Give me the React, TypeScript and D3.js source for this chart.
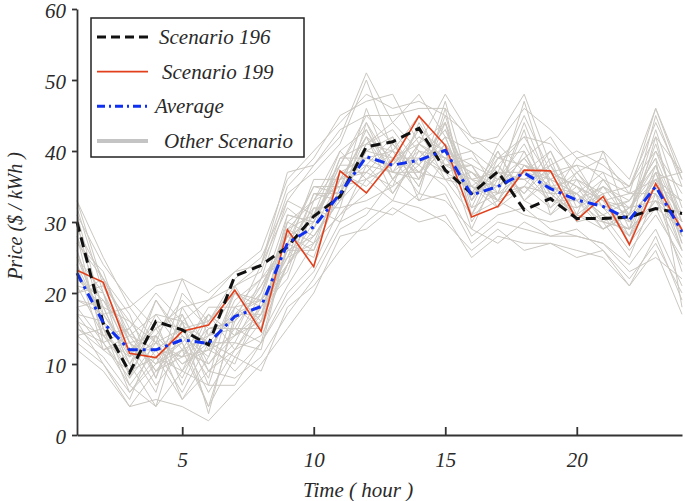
import React, { useEffect, useRef } from "react";
import * as d3 from "d3";

const hours = d3.range(1, 25);

const scenario196 = [30.0, 15.7, 8.8, 16.0, 14.8, 12.7, 22.4, 23.9, 26.5, 30.8, 33.6, 40.6, 41.3, 43.2, 37.3, 34.0, 37.1, 31.7, 33.3, 30.5, 30.5, 30.7, 31.9, 31.2];
const scenario199 = [23.2, 21.5, 11.5, 10.9, 14.6, 15.5, 20.4, 14.6, 28.9, 23.7, 37.2, 34.1, 38.7, 44.9, 40.8, 30.7, 32.2, 37.3, 37.2, 30.3, 33.6, 26.8, 35.4, 28.9];
const average = [22.8, 15.8, 12.0, 12.0, 13.4, 12.9, 16.7, 18.1, 27.0, 29.3, 34.0, 39.2, 38.0, 38.7, 40.1, 33.8, 35.0, 36.9, 34.7, 33.1, 32.2, 30.3, 35.0, 28.6];

// the grey "other scenario" traces
const others: number[][] = [
  [28, 18, 10, 15, 9, 14, 20, 19, 30, 33, 38, 44, 36, 41, 38, 36, 33, 40, 32, 35, 30, 32, 38, 30],
  [18, 13, 15, 8, 17, 10, 14, 22, 25, 27, 31, 36, 40, 35, 44, 31, 37, 34, 38, 31, 34, 28, 33, 26],
  [25, 20, 8, 13, 11, 17, 12, 17, 29, 31, 36, 42, 34, 39, 37, 35, 32, 38, 36, 34, 29, 31, 40, 31],
  [15, 12, 13, 10, 16, 7, 18, 15, 24, 28, 33, 37, 41, 37, 42, 33, 38, 33, 31, 36, 33, 27, 32, 24],
  [31, 17, 11, 16, 7, 15, 15, 21, 28, 35, 34, 46, 37, 43, 36, 37, 34, 44, 35, 30, 35, 32, 36, 33],
  [20, 22, 14, 9, 14, 11, 20, 16, 26, 26, 37, 35, 39, 34, 46, 30, 36, 36, 33, 33, 30, 29, 42, 28],
  [13, 10, 5, 14, 10, 13, 9, 13, 20, 24, 32, 33, 35, 38, 35, 28, 31, 32, 29, 28, 27, 24, 29, 21],
  [26, 14, 9, 19, 13, 4, 16, 20, 31, 30, 39, 41, 44, 40, 39, 34, 39, 38, 37, 35, 32, 30, 34, 30],
  [22, 19, 12, 6, 18, 12, 14, 18, 22, 32, 30, 38, 37, 36, 41, 35, 33, 35, 40, 32, 35, 33, 38, 27],
  [33, 21, 16, 13, 8, 16, 21, 23, 34, 37, 41, 50, 40, 45, 37, 38, 36, 41, 34, 37, 33, 31, 45, 35],
  [17, 16, 7, 12, 15, 9, 13, 12, 27, 25, 35, 36, 33, 41, 44, 32, 40, 33, 36, 30, 31, 26, 31, 25],
  [24, 12, 14, 17, 12, 18, 18, 19, 25, 34, 33, 40, 42, 33, 39, 40, 34, 37, 33, 39, 36, 34, 36, 37],
  [19, 18, 10, 4, 16, 13, 11, 16, 24, 29, 36, 39, 38, 42, 40, 29, 37, 36, 38, 33, 29, 32, 37, 29],
  [27, 23, 13, 14, 5, 11, 19, 22, 33, 31, 40, 43, 36, 39, 43, 36, 35, 47, 35, 34, 37, 29, 33, 31],
  [14, 11, 6, 10, 13, 6, 12, 14, 21, 27, 31, 34, 39, 37, 36, 31, 33, 31, 30, 31, 30, 25, 34, 23],
  [23, 17, 18, 13, 22, 14, 17, 21, 28, 30, 38, 45, 41, 36, 47, 34, 36, 39, 42, 36, 34, 35, 40, 34],
  [30, 15, 9, 11, 9, 17, 14, 17, 26, 36, 36, 37, 35, 44, 38, 38, 32, 35, 34, 31, 40, 30, 36, 28],
  [21, 20, 11, 19, 14, 8, 21, 15, 30, 28, 34, 41, 43, 38, 42, 33, 41, 37, 36, 38, 32, 33, 39, 30],
  [16, 14, 15, 9, 11, 12, 10, 19, 23, 33, 35, 38, 34, 40, 36, 35, 34, 43, 31, 34, 31, 28, 35, 26],
  [25, 16, 12, 14, 19, 15, 16, 24, 32, 29, 39, 39, 40, 35, 45, 33, 38, 34, 39, 30, 36, 31, 43, 32],
  [20, 21, 13, 7, 12, 10, 15, 13, 27, 32, 32, 44, 38, 42, 39, 37, 33, 38, 35, 36, 30, 29, 32, 29],
  [28, 13, 8, 16, 15, 16, 20, 18, 25, 31, 37, 37, 41, 37, 40, 31, 39, 40, 33, 32, 34, 27, 37, 35],
  [18, 19, 14, 12, 6, 13, 13, 20, 29, 27, 36, 42, 36, 41, 38, 39, 36, 36, 37, 35, 33, 34, 34, 28],
  [26, 15, 10, 17, 16, 3, 17, 17, 24, 34, 34, 40, 39, 39, 43, 34, 35, 39, 34, 31, 29, 31, 41, 30],
  [22, 18, 16, 11, 13, 17, 14, 16, 31, 30, 38, 38, 42, 36, 41, 36, 37, 37, 40, 33, 35, 30, 36, 31],
  [17, 12, 9, 14, 10, 12, 18, 22, 27, 35, 35, 43, 37, 40, 37, 32, 34, 35, 32, 37, 32, 28, 38, 27],
  [24, 16, 12, 15, 17, 9, 12, 18, 26, 28, 33, 41, 40, 38, 44, 35, 38, 42, 36, 34, 31, 33, 39, 18],
  [32, 20, 13, 10, 12, 14, 15, 15, 29, 33, 40, 36, 38, 43, 40, 38, 33, 38, 35, 33, 36, 31, 35, 33],
  [21, 14, 11, 13, 15, 13, 17, 19, 24, 30, 37, 39, 37, 37, 41, 34, 40, 33, 37, 35, 33, 32, 33, 29],
  [19, 17, 12, 12, 11, 15, 16, 20, 28, 26, 34, 42, 39, 41, 39, 37, 35, 39, 34, 34, 31, 29, 37, 26],
  [33, 25, 18, 21, 22, 20, 23, 26, 36, 40, 44, 48, 46, 47, 45, 42, 41, 46, 43, 39, 40, 36, 46, 37],
  [12, 9, 4, 5, 4, 2, 6, 10, 15, 20, 28, 29, 32, 30, 31, 25, 28, 27, 27, 26, 25, 21, 26, 17],
  [29, 22, 17, 8, 20, 16, 22, 25, 33, 38, 42, 51, 44, 48, 42, 40, 37, 45, 37, 38, 37, 35, 44, 36],
  [14, 15, 6, 11, 5, 9, 8, 11, 17, 22, 29, 31, 36, 33, 34, 27, 30, 29, 28, 29, 26, 22, 27, 20],
  [31, 24, 19, 15, 18, 19, 21, 24, 35, 39, 45, 47, 48, 41, 48, 42, 39, 42, 41, 37, 39, 34, 46, 36],
  [16, 10, 4, 9, 12, 4, 11, 9, 18, 21, 26, 30, 33, 32, 30, 26, 29, 26, 27, 25, 26, 21, 28, 19],
  [27, 22, 15, 20, 16, 19, 23, 24, 37, 38, 43, 45, 45, 46, 46, 41, 42, 48, 38, 40, 38, 35, 42, 37],
  [15, 13, 7, 4, 9, 7, 7, 13, 19, 23, 30, 32, 31, 34, 33, 29, 27, 30, 28, 28, 27, 23, 25, 22],
];

const xTicks = [5, 10, 15, 20];
const yTicks = [0, 10, 20, 30, 40, 50, 60];

const legendItems = [
  { label: "Scenario 196", color: "#111", width: 3, dash: "9,5", textX: 159 },
  { label: "Scenario 199", color: "#e2401c", width: 1.6, dash: "", textX: 162 },
  { label: "Average", color: "#1030f0", width: 3, dash: "8,4,2,4", textX: 155 },
  { label: "Other Scenario", color: "#c4c4c4", width: 4, dash: "", textX: 164 },
];

const W = 685;
const H = 501;
const FONT = "'Liberation Serif', 'DejaVu Serif', serif";
const TEXT = "#2a2a2a";

const App: React.FC = () => {
  const svgRef = useRef<SVGSVGElement>(null);

  useEffect(() => {
    if (!svgRef.current) return;
    const svg = d3.select(svgRef.current);
    svg.selectAll("*").remove();

    const x = d3.scaleLinear().domain([1, 24]).range([77, 682]);
    const y = d3.scaleLinear().domain([0, 60]).range([435, 9]);

    const line = d3
      .line<number>()
      .x((d, i) => x(hours[i]))
      .y((d) => y(d));

    // grey scenarios
    svg
      .append("g")
      .selectAll("path")
      .data(others)
      .join("path")
      .attr("d", (d) => line(d))
      .attr("fill", "none")
      .attr("stroke", "#cbc7c1")
      .attr("stroke-width", 1);

    svg
      .append("path")
      .attr("d", line(scenario199))
      .attr("fill", "none")
      .attr("stroke", "#e2401c")
      .attr("stroke-width", 1.6);

    svg
      .append("path")
      .attr("d", line(scenario196))
      .attr("fill", "none")
      .attr("stroke", "#111")
      .attr("stroke-width", 3)
      .attr("stroke-dasharray", "10,6");

    svg
      .append("path")
      .attr("d", line(average))
      .attr("fill", "none")
      .attr("stroke", "#1030f0")
      .attr("stroke-width", 3)
      .attr("stroke-dasharray", "10,5,3,5");

    // axes
    const xAxis = svg
      .append("g")
      .attr("transform", "translate(0,435)")
      .call(d3.axisBottom(x).tickValues(xTicks).tickSize(-8).tickSizeOuter(0).tickPadding(18));
    const yAxis = svg
      .append("g")
      .attr("transform", "translate(77,0)")
      .call(d3.axisLeft(y).tickValues(yTicks).tickSize(5).tickSizeOuter(0).tickPadding(6));

    [xAxis, yAxis].forEach((g) => {
      g.select(".domain").attr("stroke", "#333").attr("stroke-width", 1.8);
      g.selectAll(".tick line").attr("stroke", "#333").attr("stroke-width", 1.8);
      g.selectAll(".tick text")
        .attr("fill", TEXT)
        .style("font-family", FONT)
        .style("font-style", "italic")
        .style("font-size", "21px");
    });
    yAxis.selectAll(".tick text").attr("dy", "0.4em");
    xAxis.selectAll(".tick text").attr("dy", "0.65em");

    // axis titles
    svg
      .append("text")
      .attr("x", 358)
      .attr("y", 497)
      .attr("text-anchor", "middle")
      .style("font-family", FONT)
      .style("font-style", "italic")
      .style("font-size", "21px")
      .attr("fill", TEXT)
      .text("Time ( hour )");

    svg
      .append("text")
      .attr("transform", "translate(22,216) rotate(-90)")
      .attr("text-anchor", "middle")
      .style("font-family", FONT)
      .style("font-style", "italic")
      .style("font-size", "20px")
      .attr("fill", TEXT)
      .text("Price ($ / kWh )");

    // legend
    const legend = svg.append("g");
    legend
      .append("rect")
      .attr("x", 91)
      .attr("y", 18)
      .attr("width", 213)
      .attr("height", 139)
      .attr("fill", "#fff")
      .attr("stroke", "#222")
      .attr("stroke-width", 1.5);

    const legendY = d3.scalePoint<string>().domain(legendItems.map((d) => d.label)).range([37, 141]);

    legendItems.forEach((item) => {
      const yy = legendY(item.label) || 0;
      legend
        .append("line")
        .attr("x1", 97)
        .attr("x2", 148)
        .attr("y1", yy)
        .attr("y2", yy)
        .attr("stroke", item.color)
        .attr("stroke-width", item.width)
        .attr("stroke-dasharray", item.dash || null);
      legend
        .append("text")
        .attr("x", item.textX)
        .attr("y", yy)
        .attr("dy", "0.33em")
        .style("font-family", FONT)
        .style("font-style", "italic")
        .style("font-size", "21px")
        .attr("fill", TEXT)
        .text(item.label);
    });
  }, []);

  return (
    <svg
      ref={svgRef}
      width={W}
      height={H}
      style={{ position: "absolute", left: 0, top: 0, background: "#fff" }}
    />
  );
};

export default App;
